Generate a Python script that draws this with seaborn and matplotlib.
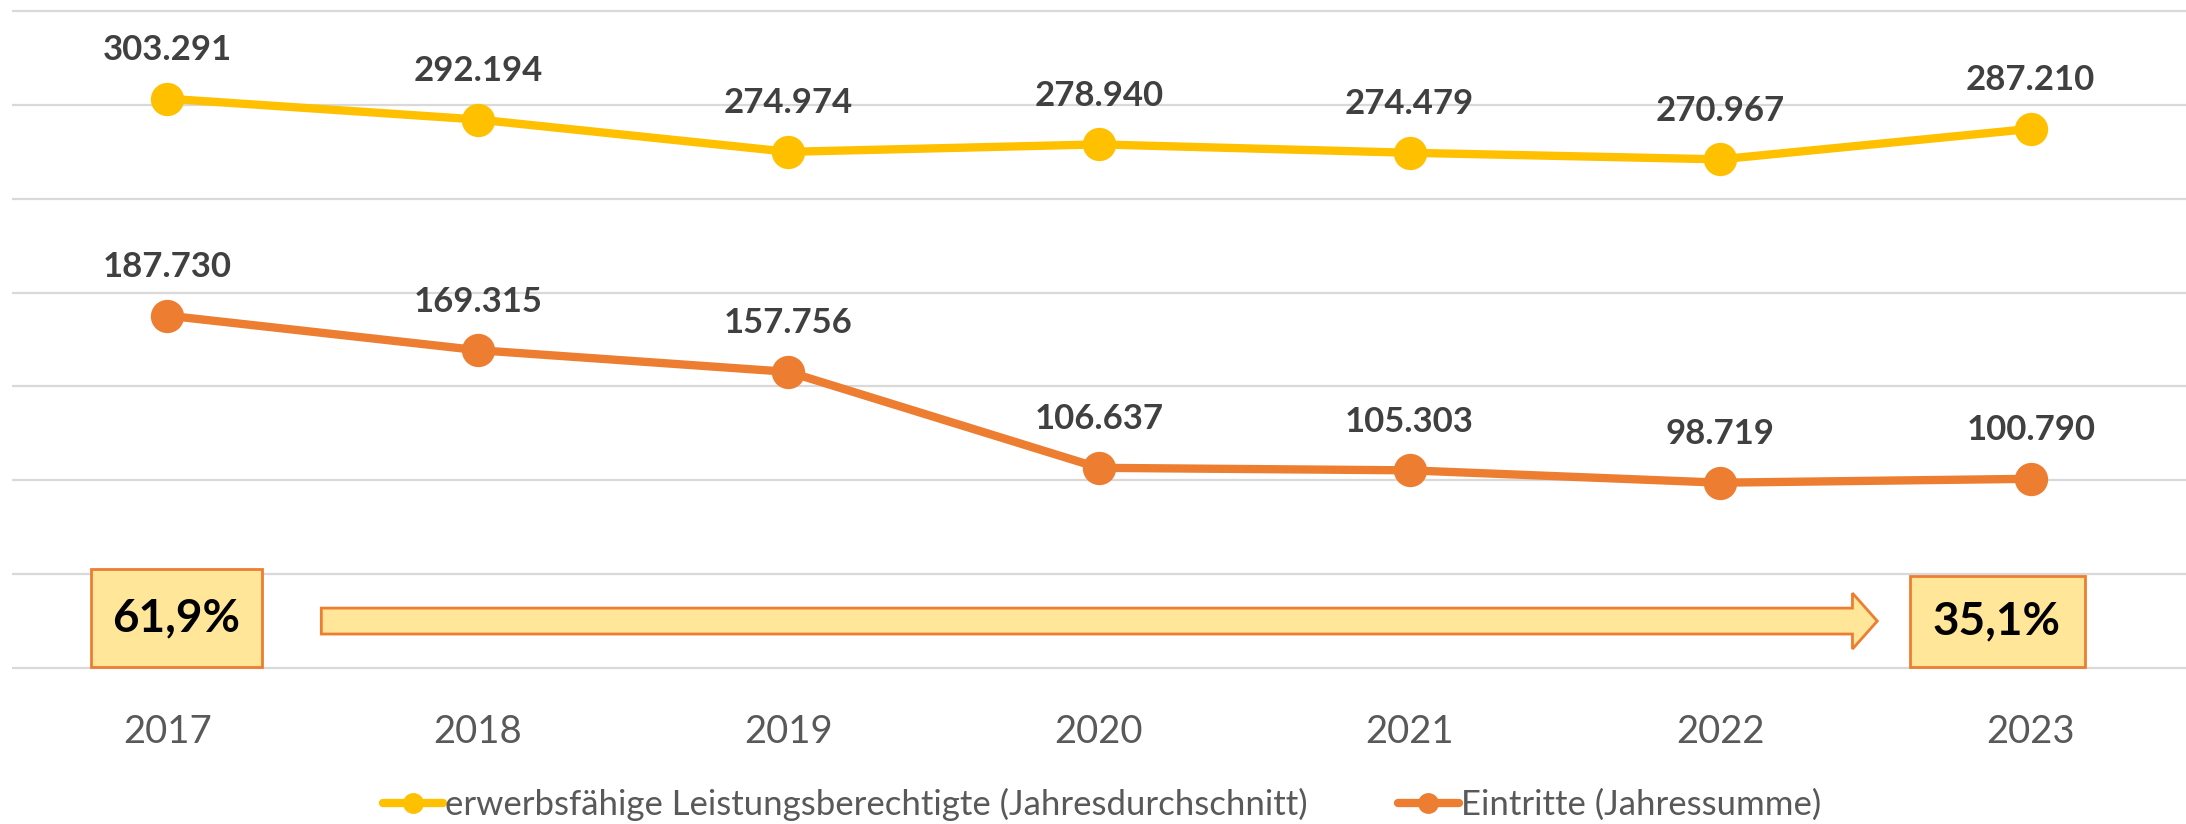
import matplotlib
matplotlib.use("Agg")
import matplotlib.pyplot as plt
from matplotlib.lines import Line2D
from matplotlib.patches import Rectangle, FancyArrow
import pandas as pd
import seaborn as sns

years = ["2017", "2018", "2019", "2020", "2021", "2022", "2023"]
elb = [303291, 292194, 274974, 278940, 274479, 270967, 287210]
eintritte = [187730, 169315, 157756, 106637, 105303, 98719, 100790]
series_names = ["erwerbsfähige Leistungsberechtigte (Jahresdurchschnitt)",
                "Eintritte (Jahressumme)"]
colors = ["#FFC000", "#ED7D31"]
quote_start = "61,9%"
quote_end = "35,1%"

sns.set_style("white")
plt.rcParams["font.family"] = ["Lato", "DejaVu Sans"]

df = pd.DataFrame({
    "Jahr": years * 2,
    "Wert": elb + eintritte,
    "Reihe": [series_names[0]] * len(years) + [series_names[1]] * len(years),
})

fig = plt.figure(figsize=(21.86, 8.24), dpi=100)
ax = fig.add_axes([12 / 2186, 0.1859, 1 - 12 / 2186, 0.8053])

sns.lineplot(data=df, x="Jahr", y="Wert", hue="Reihe", palette=colors,
             marker="o", markersize=24, markeredgewidth=0, linewidth=6,
             legend=False, ax=ax)

# data labels, german thousands separator
for vals in [elb, eintritte]:
    for i, v in enumerate(vals):
        ax.annotate(f"{v:,}".replace(",", "."), (i, v), xytext=(0, 35),
                    textcoords="offset points", ha="center", va="center",
                    fontsize=25, fontweight="bold", color="#404040")

ax.set_xlim(-0.5, 6.5)
ax.set_ylim(-1500, 352000)
ax.set_yticks(range(0, 350001, 50000))
ax.set_yticklabels([])
ax.yaxis.grid(True, color="#D9D9D9", linewidth=1.6)
ax.set_axisbelow(True)
ax.tick_params(axis="y", length=0)
ax.tick_params(axis="x", length=0, pad=31, labelsize=27.5, labelcolor="#595959")
ax.set_xlabel("")
ax.set_ylabel("")
for s in ax.spines.values():
    s.set_visible(False)

# quota boxes and arrow
box_fc = "#FFE699"
box_ec = "#ED7D31"
ax.add_patch(Rectangle((-0.245, 500), 0.551, 52200, facecolor=box_fc,
                       edgecolor=box_ec, linewidth=2, zorder=4))
ax.text(0.03, 26600, quote_start, ha="center", va="center", fontsize=33,
        fontweight="bold", color="black", zorder=5)
ax.add_patch(Rectangle((5.61, 500), 0.565, 48500, facecolor=box_fc,
                       edgecolor=box_ec, linewidth=2, zorder=4))
ax.text(5.89, 25000, quote_end, ha="center", va="center", fontsize=33,
        fontweight="bold", color="black", zorder=5)
ax.add_patch(FancyArrow(0.496, 25000, 5.01, 0, width=13800, head_width=29800,
                        head_length=0.08, length_includes_head=True,
                        facecolor=box_fc, edgecolor=box_ec, linewidth=2,
                        zorder=4))

handles = [Line2D([0], [0], color=c, linewidth=6, marker="o", markersize=14)
           for c in colors]
fig.legend(handles, series_names, loc="center", bbox_to_anchor=(0.504, 0.024),
           ncol=2, frameon=False, fontsize=25, handlelength=1.75,
           handletextpad=0.05, columnspacing=2.6, labelcolor="#595959")

fig.savefig("out.png", dpi=100)
